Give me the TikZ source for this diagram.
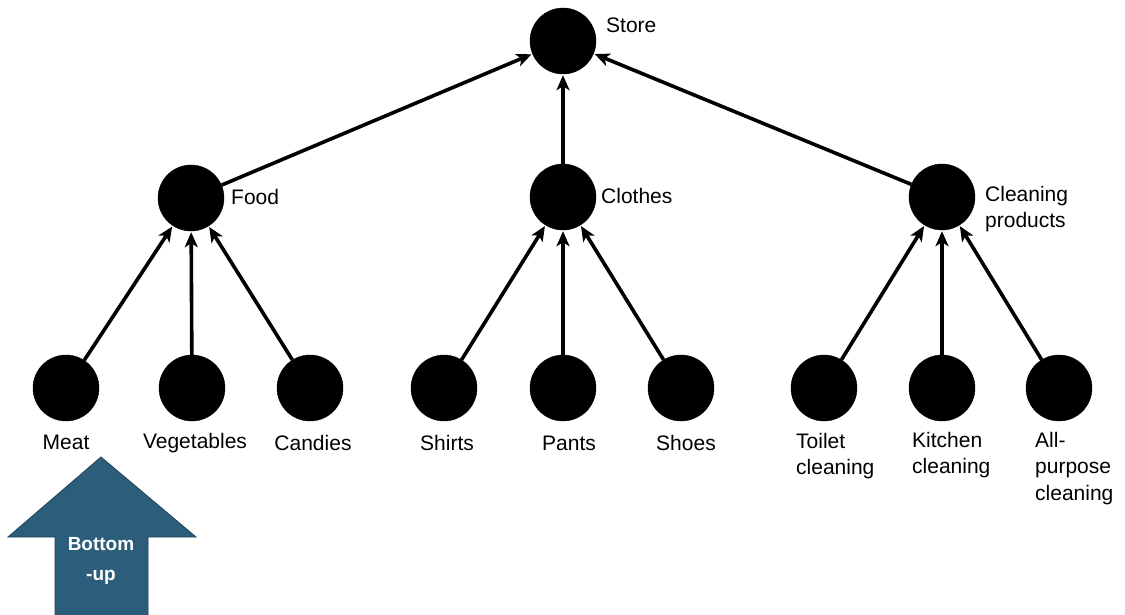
\documentclass[tikz,border=0pt]{standalone}
\usepackage{fontspec}
\setmainfont{Liberation Sans}
\usetikzlibrary{arrows.meta}
\definecolor{arrowblue}{RGB}{44,94,124}
\tikzset{
  dot/.style={circle,fill=black,draw=black,minimum size=66pt,inner sep=0pt},
  lbl/.style={font=\fontsize{21}{26.5}\selectfont,align=left,inner sep=0pt},
  up/.style={line width=3.6pt,-{Stealth[length=15pt,width=13pt,inset=4pt]},shorten >=1pt}
}
\begin{document}
\begin{tikzpicture}[x=1pt,y=-1pt]
\useasboundingbox (0,0) rectangle (1125,614);
% levels
\node[dot] (store) at (563,41) {};
\node[dot] (food) at (191,198) {};
\node[dot] (clothes) at (563,197) {};
\node[dot] (clean) at (942,197) {};
\node[dot] (meat) at (66,388) {};
\node[dot] (veg) at (192,388) {};
\node[dot] (candy) at (310,388) {};
\node[dot] (shirts) at (444,388) {};
\node[dot] (pants) at (563,388) {};
\node[dot] (shoes) at (681,388) {};
\node[dot] (toilet) at (824,388) {};
\node[dot] (kitchen) at (942,388) {};
\node[dot] (allp) at (1059,388) {};
% labels
\node[lbl,anchor=west] (lstore) at (606,25) {Store};
\node[lbl,anchor=west] (lfood) at (231,197) {Food};
\node[lbl,anchor=west] (lclothes) at (601,196) {Clothes};
\node[lbl,anchor=north west] (lclean) at (985,186) {Cleaning\\products};
\node[lbl] (lmeat) at (66,442) {Meat};
\node[lbl] (lveg) at (195,443) {Vegetables};
\node[lbl] (lcandy) at (313,443) {Candies};
\node[lbl] (lshirts) at (447,443) {Shirts};
\node[lbl] (lpants) at (569,443) {Pants};
\node[lbl] (lshoes) at (686,443) {Shoes};
\node[lbl,anchor=north west] (ltoilet) at (796,433) {Toilet\\cleaning};
\node[lbl,anchor=north west] (lkitchen) at (912,432) {Kitchen\\cleaning};
\node[lbl,anchor=north west] (lallp) at (1035,432) {All-\\purpose\\cleaning};
% edges
\foreach \a/\b in {food/store,clothes/store,clean/store,
  meat/food,veg/food,candy/food,shirts/clothes,pants/clothes,shoes/clothes,
  toilet/clean,kitchen/clean,allp/clean}
  \draw[up] (\a) -- (\b);
% direction
\draw[fill=arrowblue,draw=arrowblue!70!black,line width=0.8pt]
  (101,457) -- (196,537) -- (148,537) -- (148,616) -- (55,616) -- (55,537) -- (8,537) -- cycle;
\node[lbl,align=center,text=white,font=\fontsize{19}{30}\selectfont\bfseries] (dir) at (101,561) {Bottom\\-up};
\end{tikzpicture}
\end{document}
